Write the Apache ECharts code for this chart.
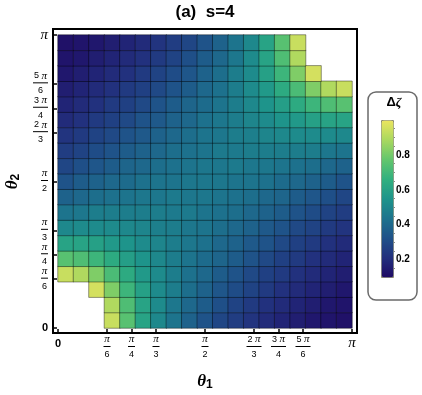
<!DOCTYPE html>
<html>
<head>
<meta charset="utf-8">
<script src="https://cdn.jsdelivr.net/npm/echarts@6/dist/echarts.min.js"></script>
<style>
  html, body { margin: 0; padding: 0; background: #fff; }
  #main { width: 422px; height: 395px; }
</style>
</head>
<body>
<div id="main"></div>
<script>
// mesh cells: 19 x 19, θ1 along x, θ2 along y (row 0 = bottom, θ2 = 0)
const cells = ['0','1','2','3','4','5','6','7','8','9','10','11','12','13','14','15','16','17','18'];

// Δζ read per cell (null = white, out of plot range)
const dzRows = [
  [null,null,null,0.94,0.75,0.61,0.51,0.44,0.38,0.33,0.29,0.26,0.23,0.20,0.18,0.16,0.14,0.13,0.12],
  [null,null,null,0.90,0.73,0.61,0.52,0.45,0.40,0.36,0.32,0.28,0.25,0.22,0.20,0.18,0.16,0.14,0.13],
  [null,null,0.96,0.82,0.69,0.60,0.52,0.47,0.42,0.38,0.34,0.31,0.28,0.25,0.22,0.20,0.18,0.16,0.14],
  [0.94,0.90,0.82,0.72,0.64,0.57,0.52,0.47,0.43,0.40,0.36,0.33,0.30,0.27,0.25,0.22,0.20,0.18,0.16],
  [0.75,0.73,0.69,0.64,0.59,0.55,0.51,0.47,0.44,0.41,0.39,0.36,0.33,0.30,0.27,0.25,0.22,0.20,0.18],
  [0.61,0.61,0.60,0.57,0.55,0.52,0.50,0.47,0.45,0.43,0.40,0.38,0.35,0.33,0.30,0.27,0.25,0.22,0.20],
  [0.51,0.52,0.52,0.52,0.51,0.50,0.48,0.47,0.45,0.44,0.42,0.40,0.38,0.35,0.33,0.30,0.28,0.25,0.23],
  [0.44,0.45,0.47,0.47,0.47,0.47,0.47,0.46,0.46,0.44,0.43,0.42,0.40,0.38,0.36,0.33,0.31,0.28,0.26],
  [0.38,0.40,0.42,0.43,0.44,0.45,0.45,0.46,0.45,0.45,0.44,0.43,0.42,0.40,0.39,0.36,0.34,0.32,0.29],
  [0.33,0.36,0.38,0.40,0.41,0.43,0.44,0.44,0.45,0.45,0.45,0.44,0.44,0.43,0.41,0.40,0.38,0.36,0.33],
  [0.29,0.32,0.34,0.36,0.39,0.40,0.42,0.43,0.44,0.45,0.45,0.46,0.45,0.45,0.44,0.43,0.42,0.40,0.38],
  [0.26,0.28,0.31,0.33,0.36,0.38,0.40,0.42,0.43,0.44,0.46,0.46,0.47,0.47,0.47,0.47,0.47,0.45,0.44],
  [0.23,0.25,0.28,0.30,0.33,0.35,0.38,0.40,0.42,0.44,0.45,0.47,0.48,0.50,0.51,0.52,0.52,0.52,0.51],
  [0.20,0.22,0.25,0.27,0.30,0.33,0.35,0.38,0.40,0.43,0.45,0.47,0.50,0.52,0.55,0.57,0.60,0.61,0.61],
  [0.18,0.20,0.22,0.25,0.27,0.30,0.33,0.36,0.39,0.41,0.44,0.47,0.51,0.55,0.59,0.64,0.69,0.73,0.75],
  [0.16,0.18,0.20,0.22,0.25,0.27,0.30,0.33,0.36,0.40,0.43,0.47,0.52,0.57,0.64,0.72,0.82,0.90,0.94],
  [0.14,0.16,0.18,0.20,0.22,0.25,0.28,0.31,0.34,0.38,0.42,0.47,0.52,0.60,0.69,0.82,0.96,null,null],
  [0.13,0.14,0.16,0.18,0.20,0.22,0.25,0.28,0.32,0.36,0.40,0.45,0.52,0.61,0.73,0.90,null,null,null],
  [0.12,0.13,0.14,0.16,0.18,0.20,0.23,0.26,0.29,0.33,0.38,0.44,0.51,0.61,0.75,0.94,null,null,null]
];

// θ ticks, in units of π
const thetaTicks = [0, 1/6, 1/4, 1/3, 1/2, 2/3, 3/4, 5/6, 1];
const tickNum = ['0', 'π', 'π', 'π', 'π', '2 π', '3 π', '5 π', 'π'];
const tickDen = ['', '6', '4', '3', '2', '3', '4', '6', ''];

// colour bar
const dzMin = 0.1, dzMax = 1.0;
const barTicks = [0.2, 0.4, 0.6, 0.8];
const barMinor = [0.15, 0.25, 0.3, 0.35, 0.45, 0.5, 0.55, 0.65, 0.7, 0.75, 0.85, 0.9, 0.95];
const palette = ['#1f0a64', '#222f7d', '#1f5189', '#1d738d', '#1e948b', '#31b07f', '#63c66d', '#a9d85f', '#ebe55f'];

const heat = [];
dzRows.forEach((row, j) => row.forEach((v, i) => { if (v !== null) heat.push([i, j, v]); }));

function tickIndex(v) {
  let best = 0;
  thetaTicks.forEach((t, k) => { if (Math.abs(t - v) < Math.abs(thetaTicks[best] - v)) best = k; });
  return best;
}
function numPart(s) {
  if (s === 'π') return '{p|π}';
  return '{n|' + s.charAt(0) + ' }{p|π}';
}
function fracLabel(v, big) {
  const k = tickIndex(v);
  if (!tickDen[k]) return tickNum[k] === 'π' ? '{' + big + 'p|π}' : '{' + big + '|0}';
  const bar = tickNum[k].length > 1 ? 'bw' : 'bn';
  return numPart(tickNum[k]) + '\n{' + bar + '| }\n{d|' + tickDen[k] + '}';
}

const fracRich = {
  n: { fontSize: 9, fontFamily: 'Liberation Sans', lineHeight: 9, align: 'center', color: '#000' },
  p: { fontSize: 11, fontFamily: 'Liberation Serif', fontStyle: 'italic', lineHeight: 9, align: 'center', color: '#000' },
  bn: { width: 7, height: 1, backgroundColor: '#000', lineHeight: 5, fontSize: 1, align: 'center' },
  bw: { width: 15, height: 1, backgroundColor: '#000', lineHeight: 5, fontSize: 1, align: 'center' },
  d: { fontSize: 9, fontFamily: 'Liberation Sans', lineHeight: 11, align: 'center', color: '#000' },
  bx: { fontSize: 11, fontFamily: 'Liberation Sans', fontWeight: 'bold', lineHeight: 12, padding: [5, 0, 0, 0], color: '#000' },
  bxp: { fontSize: 15, fontFamily: 'Liberation Serif', fontStyle: 'italic', lineHeight: 12, padding: [5, 0, 0, 0], color: '#000' },
  by: { fontSize: 11, fontFamily: 'Liberation Sans', fontWeight: 'bold', lineHeight: 12, color: '#000' },
  byp: { fontSize: 15, fontFamily: 'Liberation Serif', fontStyle: 'italic', lineHeight: 12, color: '#000' }
};

const nameRich = {
  t: { fontSize: 17, fontFamily: 'Liberation Serif', fontStyle: 'italic', fontWeight: 'bold', lineHeight: 18, color: '#000' },
  s: { fontSize: 12, fontFamily: 'Liberation Sans', fontWeight: 'bold', lineHeight: 12, verticalAlign: 'bottom', color: '#000' }
};

const chart = echarts.init(document.getElementById('main'));
chart.setOption({
  animation: false,
  title: [
    { text: '(a)  s=4', left: 205, top: 4, textAlign: 'center', padding: 0,
      textStyle: { fontSize: 17, fontWeight: 'bold', fontFamily: 'Liberation Sans', color: '#000' } },
    { text: '{a|Δ}{b|ζ}', left: 394, top: 96, textAlign: 'center', padding: 0,
      textStyle: { rich: {
        a: { fontSize: 13, fontWeight: 'bold', fontFamily: 'Liberation Sans', color: '#000' },
        b: { fontSize: 13, fontWeight: 'bold', fontStyle: 'italic', fontFamily: 'Liberation Serif', color: '#000' } } } }
  ],
  graphic: [
    { type: 'rect', shape: { x: 368, y: 92, width: 49, height: 208, r: 8 },
      style: { fill: 'none', stroke: '#6a6a6a', lineWidth: 1.5 } }
  ],
  grid: [
    { left: 58, top: 35, width: 294, height: 293, outerBoundsMode: 'none' },
    { left: 53, top: 29, width: 304, height: 304, show: true, borderColor: '#000', borderWidth: 2,
      backgroundColor: 'transparent', outerBoundsMode: 'none' },
    { left: 381, top: 120, width: 12, height: 157, outerBoundsMode: 'none' }
  ],
  xAxis: [
    { type: 'category', gridIndex: 0, data: cells, position: 'top', show: false },
    { type: 'value', gridIndex: 0, min: 0, max: 1, position: 'bottom', offset: 5,
      axisLine: { show: false }, splitLine: { show: false },
      axisTick: { inside: true, length: 4, customValues: thetaTicks, lineStyle: { color: '#000', width: 1.5 } },
      axisLabel: { customValues: thetaTicks, margin: 2, formatter: v => fracLabel(v, 'bx'), rich: fracRich },
      name: '{t|θ}{s|1}', nameLocation: 'middle', nameGap: 40, nameTextStyle: { rich: nameRich } },
    { type: 'value', gridIndex: 1, show: false, min: 0, max: 1 },
    { type: 'value', gridIndex: 2, show: false, min: 0, max: 1 }
  ],
  yAxis: [
    { type: 'category', gridIndex: 0, data: cells, position: 'right', show: false },
    { type: 'value', gridIndex: 0, min: 0, max: 1, position: 'left', offset: 5,
      axisLine: { show: false }, splitLine: { show: false },
      axisTick: { inside: true, length: 4, customValues: thetaTicks, lineStyle: { color: '#000', width: 1.5 } },
      axisLabel: { customValues: thetaTicks, margin: 5, formatter: v => fracLabel(v, 'by'), rich: fracRich },
      name: '{t|θ}{s|2}', nameLocation: 'middle', nameRotate: 90, nameGap: 27, nameTextStyle: { rich: nameRich } },
    { type: 'value', gridIndex: 1, show: false, min: 0, max: 1 },
    { type: 'value', gridIndex: 2, min: dzMin, max: dzMax, position: 'right',
      axisLine: { show: false }, splitLine: { show: false },
      axisTick: { length: 4, customValues: barTicks, lineStyle: { color: '#888' } },
      axisLabel: { customValues: barTicks, margin: 3, formatter: v => v.toFixed(1),
        fontSize: 10, fontWeight: 'bold', fontFamily: 'Liberation Sans', color: '#000' } },
    { type: 'value', gridIndex: 2, min: dzMin, max: dzMax, position: 'right',
      axisLine: { show: false }, splitLine: { show: false },
      axisTick: { length: 2, customValues: barMinor, lineStyle: { color: '#888' } },
      axisLabel: { show: false } }
  ],
  visualMap: {
    type: 'continuous', seriesIndex: 0, min: dzMin, max: dzMax, calculable: false,
    orient: 'vertical', left: 381, top: 120, itemWidth: 12, itemHeight: 157, padding: 0,
    hoverLink: false, borderColor: '#8c8c70', borderWidth: 1,
    inRange: { color: palette }
  },
  series: [{
    type: 'heatmap', xAxisIndex: 0, yAxisIndex: 0, data: heat,
    itemStyle: { borderColor: 'rgba(0,0,0,0.4)', borderWidth: 1 },
    emphasis: { disabled: true }
  }]
});
</script>
</body>
</html>
